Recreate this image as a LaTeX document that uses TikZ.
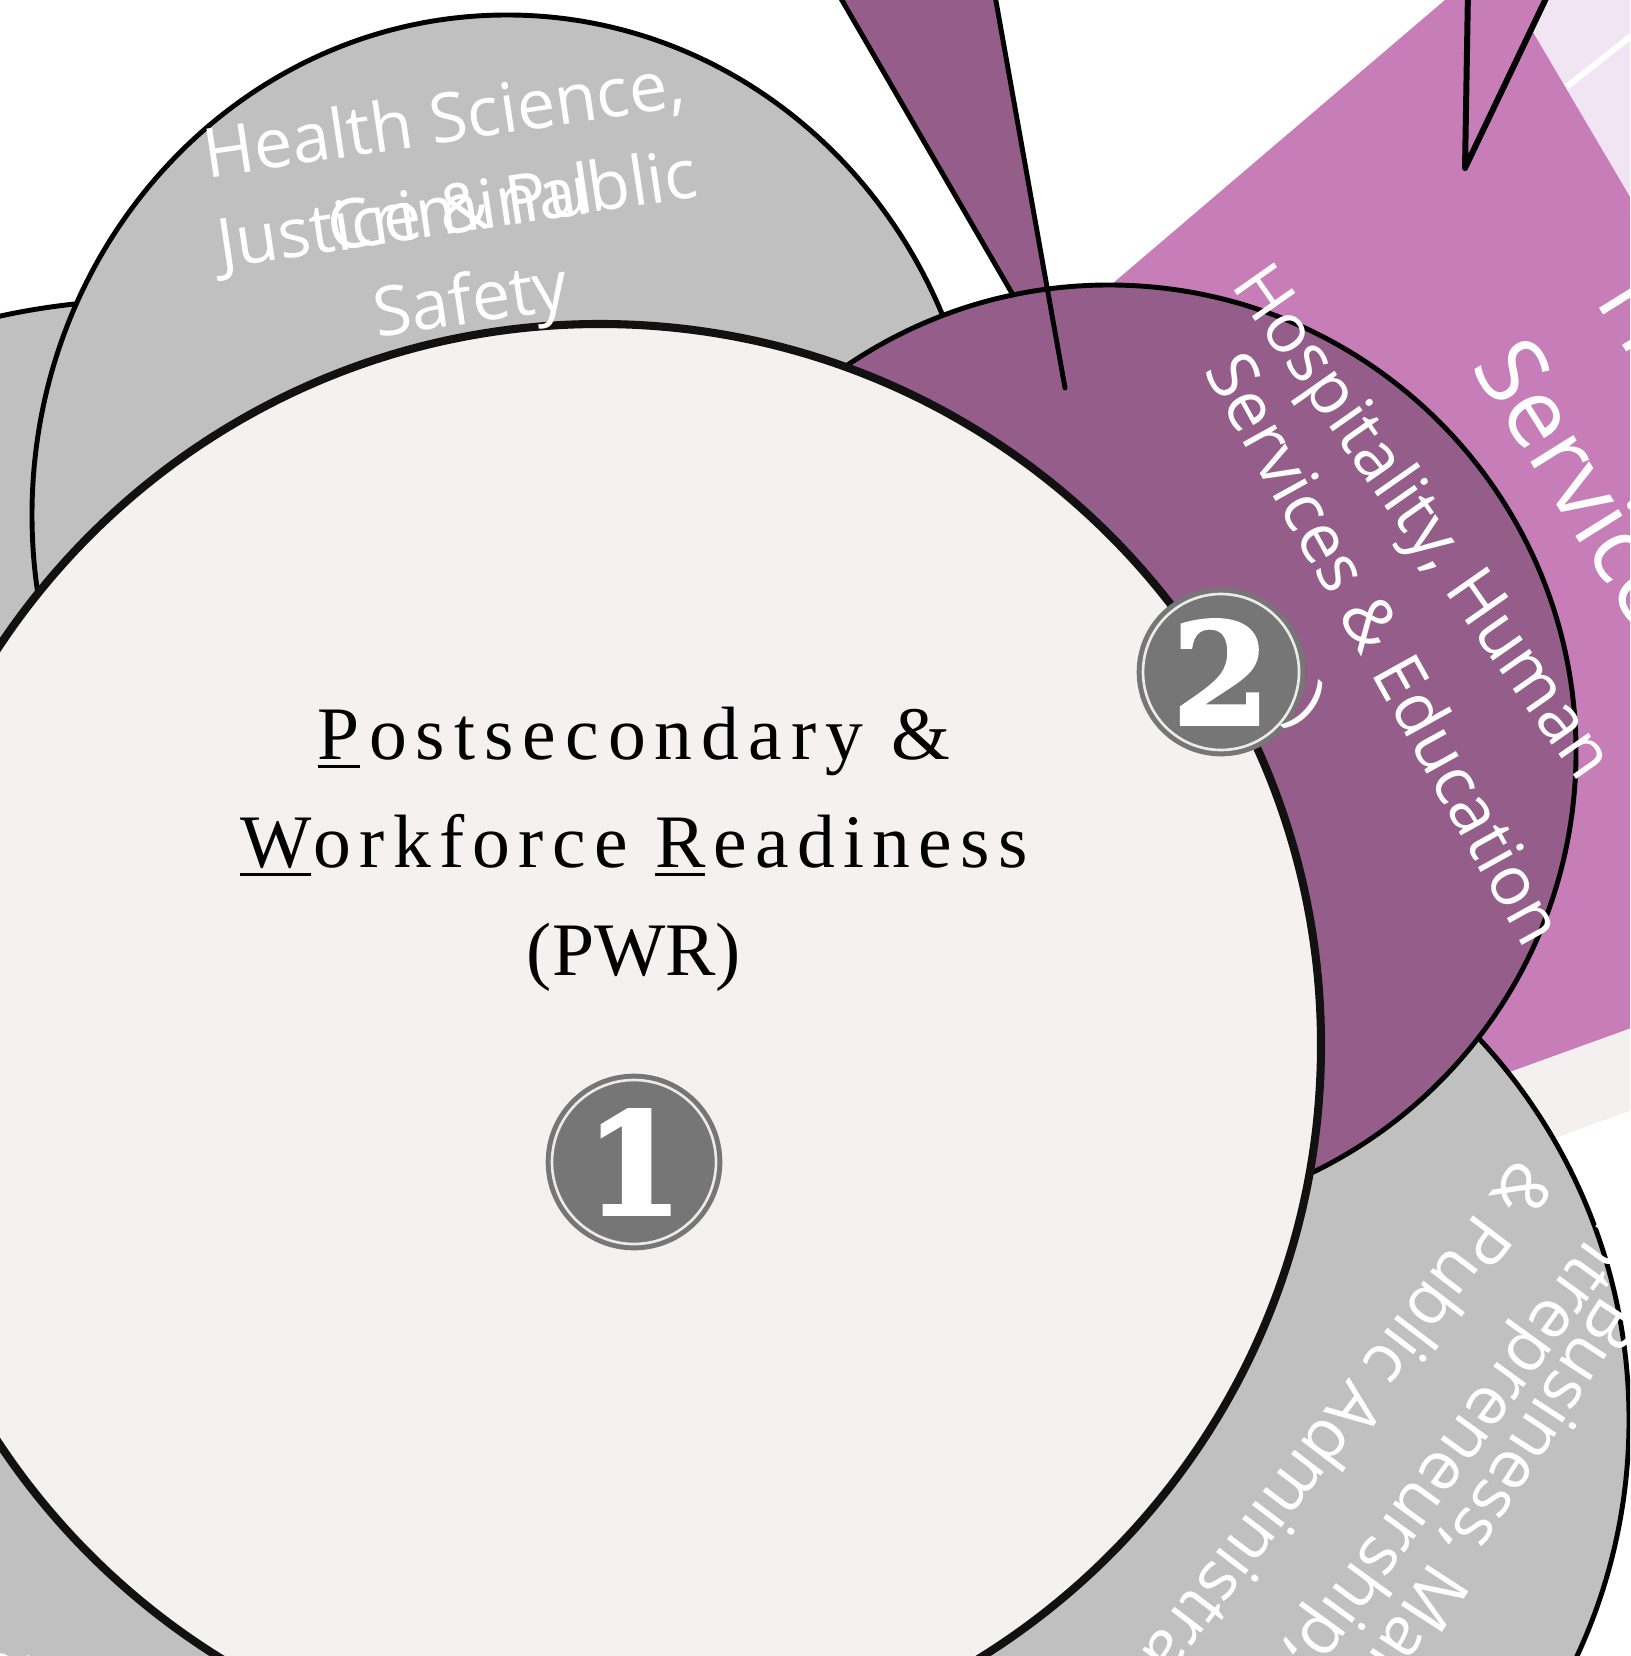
\documentclass[tikz,border=0pt]{standalone}
\usepackage{fontspec}
\newfontfamily\labelfont{Open Sans}
\newfontfamily\pwrfont[LetterSpace=12]{Liberation Serif}
\newfontfamily\pwrmid[LetterSpace=11]{Liberation Serif}
\newfontfamily\pwrplain{Liberation Serif}
\newfontfamily\numfont[FakeBold=2.5]{DejaVu Serif}

\definecolor{clustergray}{HTML}{C0C0C0}
\definecolor{pwrfill}{HTML}{F4F1F0}
\definecolor{hhse}{HTML}{955E8A}
\definecolor{humanpink}{HTML}{C77DB8}
\definecolor{lavender}{HTML}{F2E5F3}
\definecolor{band}{HTML}{F3F0EF}
\definecolor{badgegray}{HTML}{767676}
\definecolor{rimblack}{HTML}{111111}

% underlined initial letter
\newcommand{\uchar}[1]{\setbox0\hbox{#1}\rlap{\rule[-2.6pt]{\wd0}{0.9pt}}#1}

\tikzset{
  cluster/.style={draw=black, line width=1.4pt},
  lbl/.style={text=white, inner sep=0pt, font=\labelfont\fontsize{19.5}{26}\selectfont},
  biglbl/.style={lbl, font=\labelfont\fontsize{27}{32}\selectfont},
  badge/.style={circle, fill=badgegray, draw=white!92!black, line width=0.75pt,
    preaction={draw=badgegray, line width=3.6pt}, text=white, inner sep=0pt,
    font=\numfont\bfseries\fontsize{40}{40}\selectfont},
}

\begin{document}
\begin{tikzpicture}[x=0.1mm, y=-0.1mm]
\useasboundingbox (0,0) rectangle (1630,1656);
\clip (0,0) rectangle (1630,1656);
\fill[white] (0,0) rectangle (1630,1656);

% Human Services sector, far right
\fill[lavender] (1514,0) -- (1640,0) -- (1640,214) -- cycle;
\draw[white, line width=1.7pt] (1560,92) -- (1640,29);
\fill[humanpink] (1445,0) -- (1514,0) -- (1640,214) -- (1640,1025) -- (1380,1119)
    -- (1000,450) -- (1105,290) -- cycle;
\fill[band] (1380,1119) -- (1640,1025) -- (1640,1107) -- (1380,1202) -- cycle;
\draw[fill=humanpink, line width=1.7pt, line join=round] (1468,-10) -- (1465,168) -- (1550,-10);

% neighbouring clusters
\draw[cluster, fill=clustergray] (150,1000) circle (700);
\draw[cluster, fill=clustergray] (507,515) ellipse [x radius=475, y radius=500];
\draw[cluster, fill=clustergray] (1069,1420) circle (560);

% Hospitality, Human Services & Education
\fill[hhse] (836,-10) -- (1065,388) -- (994,-10) -- cycle;
\draw[cluster, fill=hhse] (1109,752) circle (467);
\draw[line width=1.4pt, line cap=round] (836,-10) -- (1013,295);
\draw[line width=1.4pt, line cap=round] (994,-10) -- (1065,388);

% PWR
\draw[draw=rimblack, line width=2.3pt, fill=pwrfill] (600,1045) circle (721);

\node[lbl, align=center, rotate=8.5] (hstext) at (458,215) {Health Science,\\Justice \& Public\\Safety};
\node[lbl, anchor=base west, rotate=8.5] (hscrim) at (331,252) {Criminal};

\node[lbl, anchor=base west, rotate=-55] (hhse1) at (1230,285) {Hospitality, Human};
\node[lbl, anchor=base west, rotate=-61] (hhse2) at (1203,370) {Services \& Education};

\node[biglbl, anchor=base west, rotate=-58] (human1) at (1594,300) {Human};
\node[biglbl, anchor=base west, rotate=-58] (human2) at (1470,366) {Services};

\node[lbl, anchor=base west, rotate=-123] (bmpa1) at (1604,1293) {Business, Marketing,};
\node[lbl, anchor=base west, rotate=-126] (bmpa2) at (1625,1186) {Entrepreneurship,};
\node[lbl, anchor=base west, rotate=-127.3] (bmpa3) at (1519,1156) {\& Public Administration};

\node[lbl, rotate=50] (leftamp) at (15,1672) {\&};

\node[font=\pwrfont\fontsize{21.5}{30.7}\selectfont, align=center, inner sep=0pt] (pwr) at (634,849)
    {\uchar{P}ostsecondary \&\\{\pwrmid\uchar{W}orkforce \uchar{R}eadiness}\\{\pwrplain (PWR)}};

\foreach \n/\x/\y/\d in {1/634/1162/16.4, 2/1221/672/15.6}
    \node[badge, minimum size=\d mm] (badge\n) at (\x,\y) {\n};

\node[lbl, rotate=-40] (tagend) at (1305,707) {)};
\end{tikzpicture}
\end{document}
